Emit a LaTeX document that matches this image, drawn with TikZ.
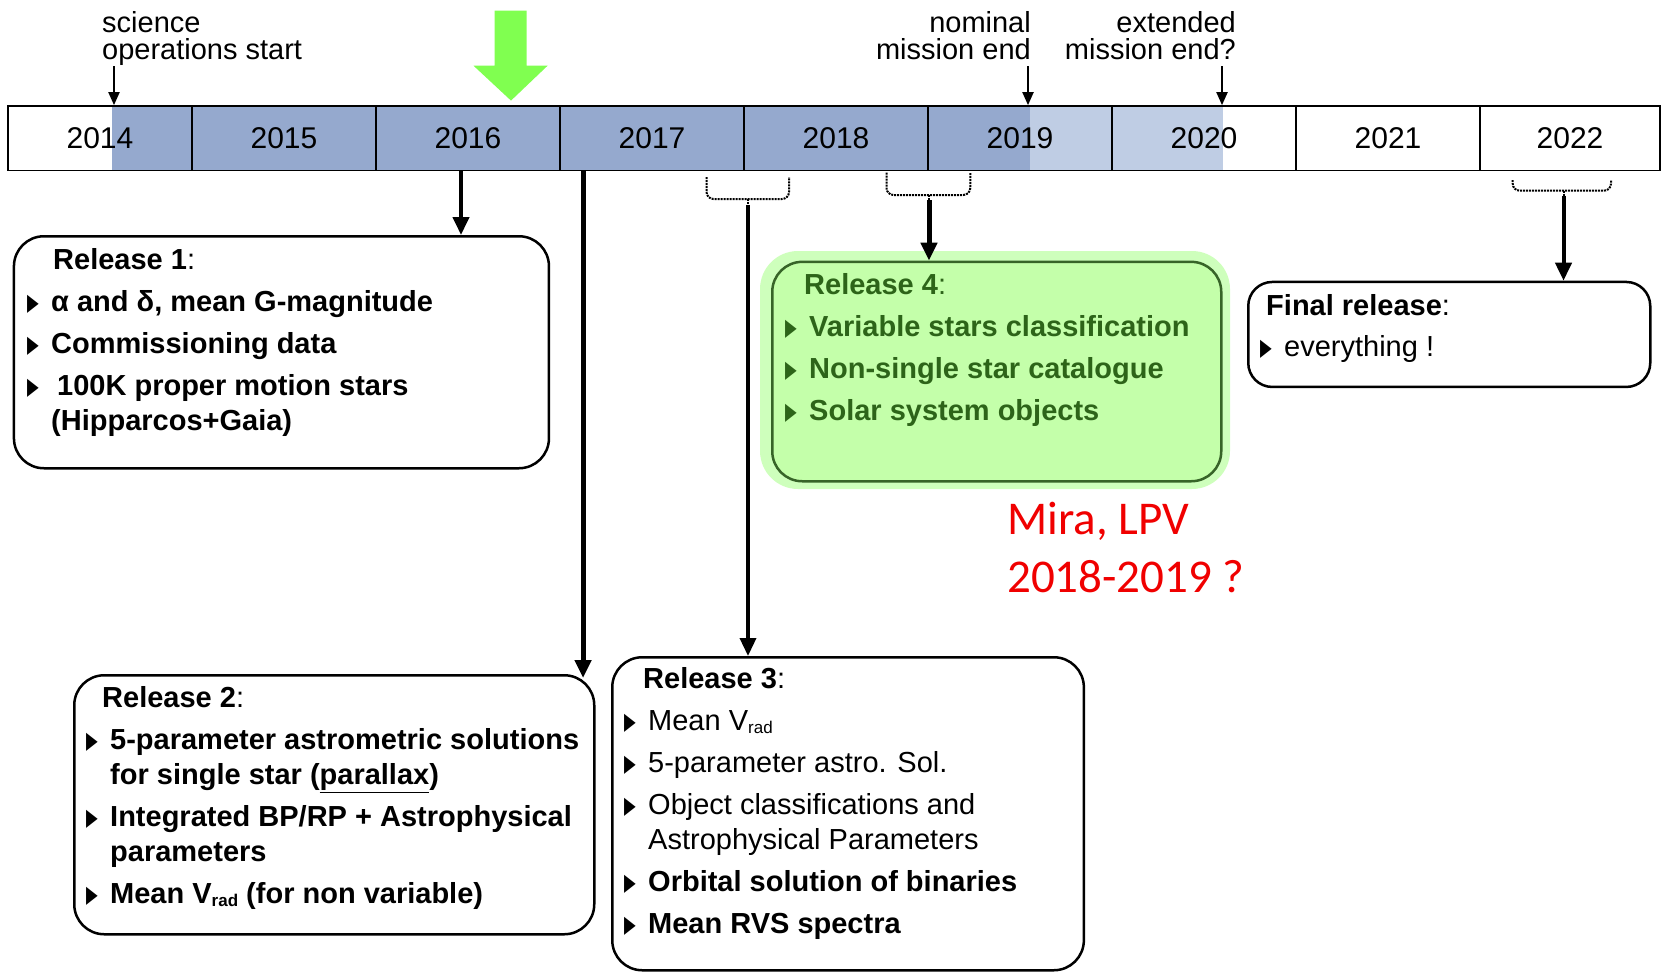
\documentclass[tikz,border=0pt]{standalone}
\usepackage{fontspec}
\setmainfont{Liberation Sans}
\newfontfamily\mirafont{Carlito}
\newfontfamily\trifont{DejaVu Sans}
\usetikzlibrary{arrows.meta}

\definecolor{tlblue}{RGB}{149,169,206}
\definecolor{tllight}{RGB}{191,205,228}
\definecolor{bigarrow}{RGB}{128,255,80}
\definecolor{rfour}{RGB}{196,255,170}
\definecolor{rfourglow}{RGB}{206,255,188}
\definecolor{rfourline}{RGB}{55,100,40}
\definecolor{rfourtext}{RGB}{45,100,25}
\definecolor{miratext}{RGB}{240,0,0}

\newcommand{\bodyfont}{\fontsize{29}{35}\selectfont}
\newcommand{\bul}{\makebox[24pt][l]{\raisebox{1pt}{\scalebox{0.8}[1.25]{\trifont\fontsize{19}{19}\selectfont ▶}}}}
\newcommand{\rad}{\raisebox{-3pt}{\fontsize{17}{17}\selectfont rad}}

\tikzset{
  yearcell/.style={draw, line width=1.8pt, minimum height=64.5pt, inner sep=0pt, font=\fontsize{30}{30}\selectfont},
  toplabel/.style={inner sep=0pt, font=\fontsize{29}{27}\selectfont},
  relbox/.style={draw, line width=2.5pt, rounded corners=30pt, anchor=north west, inner sep=0pt},
  reltext/.style={anchor=north west, align=left, inner sep=0pt, font=\bodyfont},
  tarrow/.style={line width=2pt, -{Triangle[length=13pt,width=11pt]}},
  rarrow/.style={line width=4pt, -{Triangle[length=18pt,width=16pt]}},
  bracket/.style={densely dotted, line width=2pt, rounded corners=7pt}
}

\begin{document}
\begin{tikzpicture}[x=1pt,y=-1pt]
  \useasboundingbox (0,0) rectangle (1661,972);

  % mission shading on the time line
  \fill[tlblue] (112,106) rectangle (1030,170.5);
  \fill[tllight] (1030,106) rectangle (1223,170.5);

  % years
  \foreach \yr/\cx/\w in {2014/100/184,2015/284/184,2016/468/184,2017/652/184,2018/836/184,2019/1020/184,2020/1204/184,2021/1388/184,2022/1570/180}
    \node[yearcell, minimum width=\w pt] (y\yr) at (\cx,138.3) {\yr};

  % big green arrow (we are here)
  \fill[bigarrow] (494.7,10.6) -- (526.5,10.6) -- (526.5,65.7) -- (547.6,65.7)
    -- (511,100.6) -- (473.5,65.7) -- (494.7,65.7) -- cycle;

  % mission milestones
  \node[toplabel, anchor=north west, align=left] (sci) at (102,11) {science\\operations start};
  \node[toplabel, anchor=north east, align=right] (nom) at (1031,11) {nominal\\mission end};
  \node[toplabel, anchor=north east, align=right] (ext) at (1236,11) {extended\\mission end?};
  \coordinate (sciarr) at (114,66);
  \coordinate (nomarr) at (1028,66);
  \coordinate (extarr) at (1222,66);
  \draw[tarrow] (sciarr) -- (sciarr |- y2014.north);
  \draw[tarrow] (nomarr) -- (nomarr |- y2019.north);
  \draw[tarrow] (extarr) -- (extarr |- y2020.north);

  % release boxes
  \node[relbox, minimum width=535pt, minimum height=232pt] (rel1) at (12.7,235) {};
  \node[relbox, minimum width=520pt, minimum height=259pt] (rel2) at (73,674) {};
  \node[relbox, minimum width=471.6pt, minimum height=313pt] (rel3) at (611,656) {};
  \fill[rfourglow, rounded corners=38pt] (760,251) rectangle (1230,489);
  \node[relbox, minimum width=449pt, minimum height=219.4pt, fill=rfour, draw=rfourline] (rel4) at (771,260.6) {};
  \node[relbox, rounded corners=24pt, minimum width=402pt, minimum height=105pt] (fin) at (1247,280.7) {};

  \node[reltext] (rel1txt) at (27,248) {%
    \hspace*{26pt}\textbf{Release 1}:\\[7pt]
    \bul\textbf{α and δ, mean G-magnitude}\\[7pt]
    \bul\textbf{Commissioning data}\\[7pt]
    \bul\hspace*{6pt}\textbf{100K proper motion stars}\\
    \hspace*{24pt}\textbf{(Hipparcos+Gaia)}};

  \node[reltext] (rel2txt) at (86,686.6) {%
    \hspace*{16pt}\textbf{Release 2}:\\[7pt]
    \bul\textbf{5-parameter astrometric solutions}\\
    \hspace*{24pt}\textbf{for single star (\underline{parallax})}\\[7pt]
    \bul\textbf{Integrated BP/RP + Astrophysical}\\
    \hspace*{24pt}\textbf{parameters}\\[7pt]
    \bul\textbf{Mean V\rad{} (for non variable)}};

  \node[reltext] (rel3txt) at (624,667.6) {%
    \hspace*{19pt}\textbf{Release 3}:\\[7pt]
    \bul Mean V\rad\\[7pt]
    \bul 5-parameter astro. Sol.\\[7pt]
    \bul Object classifications and\\
    \hspace*{24pt}Astrophysical Parameters\\[7pt]
    \bul\textbf{Orbital solution of binaries}\\[7pt]
    \bul\textbf{Mean RVS spectra}};

  \node[reltext, text=rfourtext] (rel4txt) at (785,273.6) {%
    \hspace*{19pt}\textbf{Release 4}:\\[7pt]
    \bul\textbf{Variable stars classification}\\[7pt]
    \bul\textbf{Non-single star catalogue}\\[7pt]
    \bul\textbf{Solar system objects}};

  \node[reltext] (fintxt) at (1260,294.6) {%
    \hspace*{6pt}\textbf{Final release}:\\[6pt]
    \bul everything !};

  \node[anchor=north west, align=left, inner sep=0pt, text=miratext,
    font=\mirafont\fontsize{47}{58}\selectfont] (mira) at (1007,502) {Mira, LPV\\2018-2019 ?};

  % dotted brackets under the years
  \draw[bracket] (706.5,177) |- (789,199) -- (789,177);
  \draw[bracket] (886.5,172.6) |- (970.3,195) -- (970.3,172.6);
  \draw[bracket] (1512.7,180) |- (1611,190.7) -- (1611,180);
  \coordinate (b1718) at (748,199);
  \coordinate (b1819) at (929,195);
  \coordinate (b2022) at (1563.5,190.7);
  \draw[bracket] (b1718) -- ++(0,6);
  \draw[bracket] (b1819) -- ++(0,5);
  \draw[bracket] (b2022) -- ++(0,5);

  % release connectors
  \draw[rarrow] ([xshift=-7pt]y2016.south) -- ([xshift=-7pt]y2016.south |- rel1.north);
  \draw[rarrow, line width=5pt] ([xshift=24pt]y2017.south west) -- ([xshift=24pt, yshift=-4pt]y2017.south west |- rel2.north);
  \draw[rarrow, line width=3.5pt] ([yshift=-6pt]b1718) -- (b1718 |- rel3.north);
  \draw[rarrow, line width=5pt] ([yshift=-5pt]b1819) -- (b1819 |- rel4.north);
  \draw[rarrow] ([yshift=-5pt]b2022) -- (b2022 |- fin.north);
\end{tikzpicture}
\end{document}
